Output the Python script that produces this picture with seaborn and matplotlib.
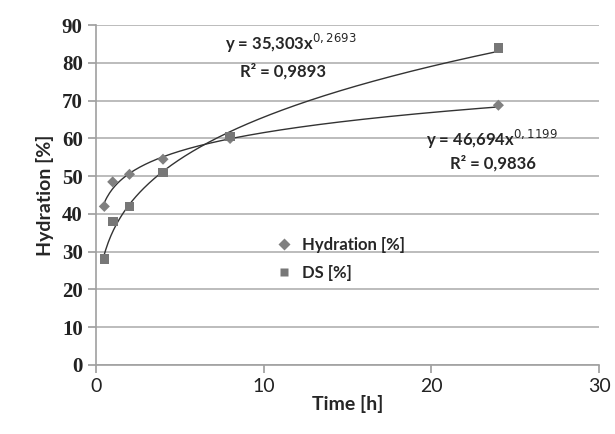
import numpy as np
import pandas as pd
import matplotlib
matplotlib.use("Agg")
import matplotlib.pyplot as plt
import seaborn as sns

time_h = [0.5, 1, 2, 4, 8, 24]
hydration = [42, 48.5, 50.5, 54.5, 60, 68.8]
ds = [28, 38, 42, 51, 60.5, 84]
fit_hyd = (46.694, 0.1199)
fit_ds = (35.303, 0.2693)

sns.set_theme(style="white")
plt.rcParams['font.family'] = ['Lato', 'DejaVu Sans']

fig = plt.figure(figsize=(6.15, 4.34), dpi=100)
ax = fig.add_axes([0.156, 0.159, 0.818, 0.783])

df = pd.DataFrame({"Time": time_h * 2,
                   "Value": hydration + ds,
                   "Series": ["Hydration [%]"] * len(time_h) + ["DS [%]"] * len(time_h)})

xs = np.linspace(min(time_h), max(time_h), 300)
ax.plot(xs, fit_hyd[0] * xs ** fit_hyd[1], color="#333333", lw=1.0, zorder=2)
ax.plot(xs, fit_ds[0] * xs ** fit_ds[1], color="#333333", lw=1.0, zorder=2)

sns.scatterplot(data=df, x="Time", y="Value", hue="Series", style="Series", size="Series",
                markers={"Hydration [%]": "D", "DS [%]": "s"},
                palette={"Hydration [%]": "#808080", "DS [%]": "#777777"},
                sizes={"Hydration [%]": 32, "DS [%]": 48},
                edgecolor="none", ax=ax, zorder=3)

ax.set_xlim(0, 30)
ax.set_ylim(0, 90)
ax.set_xticks([0, 10, 20, 30])
ax.set_yticks(range(0, 91, 10))
ax.yaxis.grid(True, color="#b0b0b0", lw=1.2)
ax.xaxis.grid(False)
for s in ["top", "right"]:
    ax.spines[s].set_visible(False)
for s in ["left", "bottom"]:
    ax.spines[s].set_color("#a0a0a0")
    ax.spines[s].set_linewidth(1.2)
ax.tick_params(axis="both", which="both", length=6, color="#a0a0a0", direction="out",
               labelsize=14, left=True, bottom=True, labelcolor="#222222")
for lbl in ax.get_yticklabels():
    lbl.set_fontfamily(["Liberation Serif", "DejaVu Serif"])
    lbl.set_fontweight("bold")
    lbl.set_fontsize(15)
ax.set_xlabel("Time [h]", fontsize=14, fontweight="bold", labelpad=0)
ax.set_ylabel("Hydration [%]", fontsize=14, fontweight="bold", labelpad=6)

ax.text(7.7, 83.5, r"y = 35,303x$^{0,2693}$", fontsize=12, fontweight="bold", ha="left")
ax.text(8.6, 76.5, "R² = 0,9893", fontsize=12, fontweight="bold", ha="left")
ax.text(19.7, 58, r"y = 46,694x$^{0,1199}$", fontsize=12, fontweight="bold", ha="left")
ax.text(21.1, 52, "R² = 0,9836", fontsize=12, fontweight="bold", ha="left")

leg = ax.legend(loc="upper left", bbox_to_anchor=(0.31, 0.42), frameon=False,
                fontsize=12, handletextpad=0.1, labelspacing=0.7)
for t in leg.get_texts():
    t.set_fontweight("bold")
for h in leg.legend_handles:
    try:
        h.set_markersize(6)
    except Exception:
        pass

fig.savefig("out.png", dpi=100)
